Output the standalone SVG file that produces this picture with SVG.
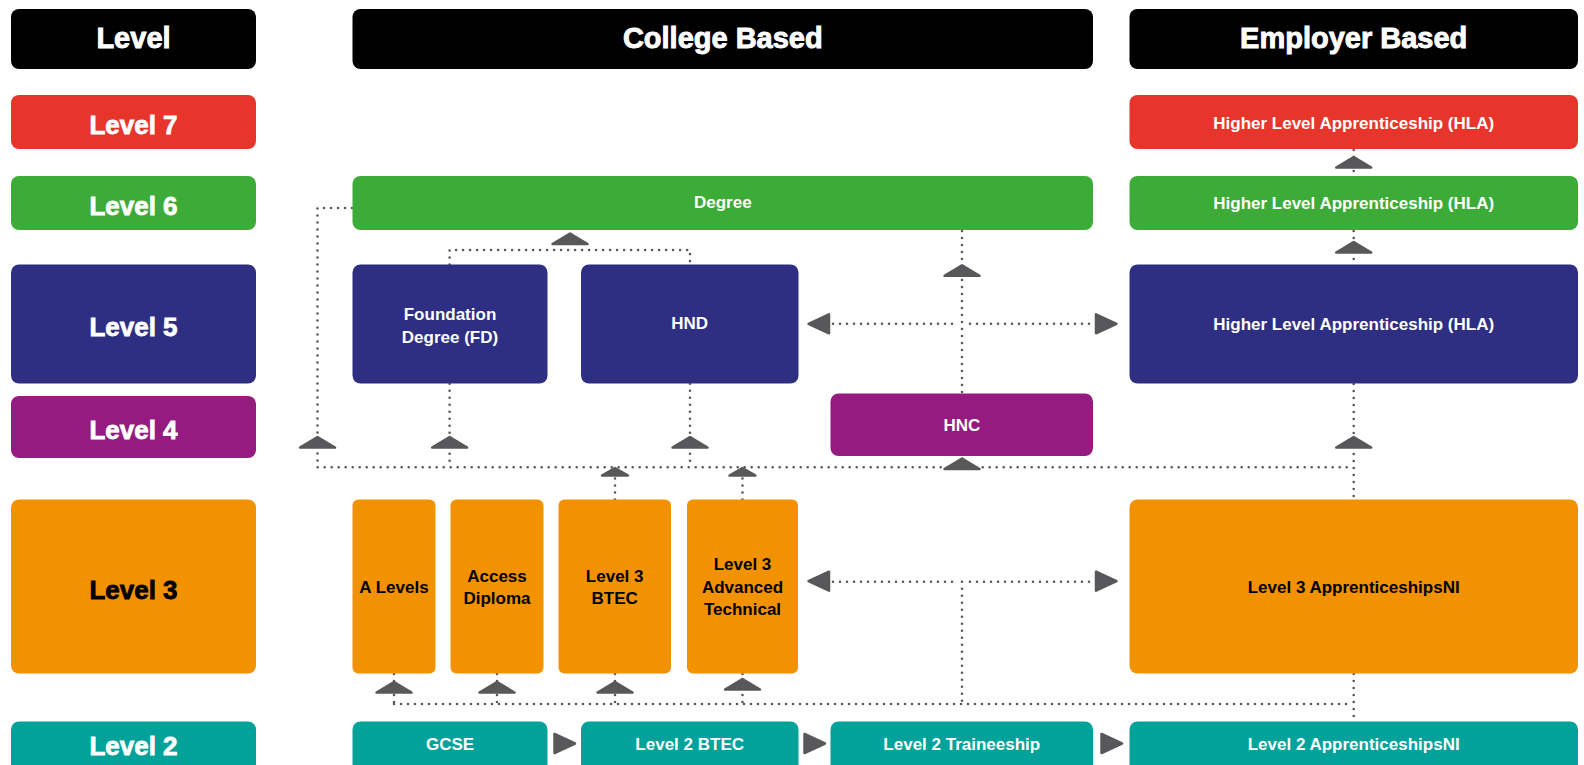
<svg xmlns="http://www.w3.org/2000/svg" width="1584" height="765" viewBox="0 0 1584 765">
<style>
.t{font-family:"Liberation Sans",Arial,sans-serif;font-weight:bold;text-anchor:middle;fill:#fff}
.hd{font-size:29px;stroke:#fff;stroke-width:0.9}
.lv{font-size:26px;stroke:#fff;stroke-width:0.8}
.nd{font-size:17px}
.bk{fill:#000}
.lv.bk{stroke:#000}
.dot{fill:none;stroke:#58585a;stroke-width:2.6;stroke-linecap:round;stroke-dasharray:0 7}
.ah{fill:#58585a;stroke:#58585a;stroke-width:2.5;stroke-linejoin:round}
.c-blk{fill:#000}
.c-red{fill:#e8352c}
.c-grn{fill:#3dab37}
.c-nav{fill:#2e2e82}
.c-pur{fill:#951b80}
.c-org{fill:#f29200}
.c-tea{fill:#00a29a}
</style>
<defs>
<path id="up" d="M-17.5,0 L0,-10.5 L17.5,0 Z"/>
<path id="ups" d="M-13,0 L0,-7.5 L13,0 Z"/>
<path id="lt" d="M0,-9.5 L-20.5,0 L0,9.5 Z"/>
<path id="rt" d="M0,-9.5 L20.5,0 L0,9.5 Z"/>
</defs>

<!-- Headers -->
<g id="hdr-level"><rect class="c-blk" x="11" y="9" width="245" height="60" rx="8"/><text class="t hd" x="133.5" y="48">Level</text></g>
<g id="hdr-college"><rect class="c-blk" x="352.5" y="9" width="740.5" height="60" rx="8"/><text class="t hd" x="722.8" y="48">College Based</text></g>
<g id="hdr-employer"><rect class="c-blk" x="1129.5" y="9" width="448.5" height="60" rx="8"/><text class="t hd" x="1353.7" y="48">Employer Based</text></g>

<!-- Level column -->
<g id="lvl7"><rect class="c-red" x="11" y="95" width="245" height="54" rx="8"/><text class="t lv" x="133.5" y="134">Level 7</text></g>
<g id="lvl6"><rect class="c-grn" x="11" y="176" width="245" height="54" rx="8"/><text class="t lv" x="133.5" y="215">Level 6</text></g>
<g id="lvl5"><rect class="c-nav" x="11" y="264.5" width="245" height="119" rx="8"/><text class="t lv" x="133.5" y="336">Level 5</text></g>
<g id="lvl4"><rect class="c-pur" x="11" y="396" width="245" height="62" rx="8"/><text class="t lv" x="133.5" y="439">Level 4</text></g>
<g id="lvl3"><rect class="c-org" x="11" y="499.5" width="245" height="174" rx="8"/><text class="t lv bk" x="133.5" y="598.5">Level 3</text></g>
<g id="lvl2"><rect class="c-tea" x="11" y="721.5" width="245" height="60" rx="8"/><text class="t lv" x="133.5" y="755">Level 2</text></g>

<!-- Connectors -->
<g id="connectors">
<path class="dot" d="M352 208 H317.5 V467.3 H1347"/>
<path class="dot" d="M449.6 383.7 V467.3"/>
<path class="dot" d="M690 383.7 V467.3"/>
<path class="dot" d="M449.6 264.5 V250 H690 V264.5"/>
<path class="dot" d="M962 231 V393.5"/>
<path class="dot" d="M833 323.7 H954"/>
<path class="dot" d="M970 323.7 H1093"/>
<path class="dot" d="M1353.7 150 V176"/>
<path class="dot" d="M1353.7 231 V264.5"/>
<path class="dot" d="M1353.7 384 V499.5"/>
<path class="dot" d="M615 499.5 V476"/>
<path class="dot" d="M742.5 499.5 V476"/>
<path class="dot" d="M833 581.7 H954"/>
<path class="dot" d="M970 581.7 H1093"/>
<path class="dot" d="M962 581.7 V704"/>
<path class="dot" d="M394 704 H1347"/>
<path class="dot" d="M394 674 V704"/>
<path class="dot" d="M497 674 V704"/>
<path class="dot" d="M615 674 V704"/>
<path class="dot" d="M742.5 674 V704"/>
<path class="dot" d="M1353.7 674 V721.5"/>
<!-- arrowheads -->
<use class="ah" href="#up" x="317.5" y="447.5"/>
<use class="ah" href="#up" x="449.6" y="447.5"/>
<use class="ah" href="#up" x="690" y="447.5"/>
<use class="ah" href="#up" x="962" y="469"/>
<use class="ah" href="#up" x="1353.7" y="447.5"/>
<use class="ah" href="#up" x="570" y="244"/>
<use class="ah" href="#up" x="962" y="275.8"/>
<use class="ah" href="#up" x="1353.7" y="167.5"/>
<use class="ah" href="#up" x="1353.7" y="252.5"/>
<use class="ah" href="#ups" x="615" y="475.5"/>
<use class="ah" href="#ups" x="742.5" y="475.5"/>
<use class="ah" href="#up" x="394" y="692.5"/>
<use class="ah" href="#up" x="497" y="692.5"/>
<use class="ah" href="#up" x="615" y="692.5"/>
<use class="ah" href="#up" x="742.5" y="689.5"/>
<use class="ah" href="#lt" x="829" y="323.8"/>
<use class="ah" href="#rt" x="1096" y="323.8"/>
<use class="ah" href="#lt" x="829" y="581.2"/>
<use class="ah" href="#rt" x="1096" y="581.2"/>
<use class="ah" href="#rt" x="554.5" y="743.5"/>
<use class="ah" href="#rt" x="804.5" y="743.5"/>
<use class="ah" href="#rt" x="1101.5" y="743.5"/>
</g>

<!-- College based -->
<g id="degree"><rect class="c-grn" x="352.5" y="176" width="740.5" height="54" rx="8"/><text class="t nd" x="722.8" y="208">Degree</text></g>
<g id="fd"><rect class="c-nav" x="352.5" y="264.5" width="195" height="119" rx="8"/><text class="t nd" x="450" y="320">Foundation</text><text class="t nd" x="450" y="342.7">Degree (FD)</text></g>
<g id="hnd"><rect class="c-nav" x="581" y="264.5" width="217.5" height="119" rx="8"/><text class="t nd" x="689.7" y="329">HND</text></g>
<g id="hnc"><rect class="c-pur" x="830.5" y="393.5" width="262.5" height="62.5" rx="8"/><text class="t nd" x="961.8" y="430.5">HNC</text></g>
<g id="alevels"><rect class="c-org" x="352.5" y="499.5" width="83" height="174" rx="6"/><text class="t nd bk" x="394" y="592.7">A Levels</text></g>
<g id="access"><rect class="c-org" x="450.5" y="499.5" width="93" height="174" rx="6"/><text class="t nd bk" x="497" y="581.7">Access</text><text class="t nd bk" x="497" y="604">Diploma</text></g>
<g id="l3btec"><rect class="c-org" x="558.5" y="499.5" width="112.5" height="174" rx="6"/><text class="t nd bk" x="614.7" y="581.7">Level 3</text><text class="t nd bk" x="614.7" y="604">BTEC</text></g>
<g id="l3adv"><rect class="c-org" x="687" y="499.5" width="111" height="174" rx="6"/><text class="t nd bk" x="742.5" y="570">Level 3</text><text class="t nd bk" x="742.5" y="592.7">Advanced</text><text class="t nd bk" x="742.5" y="615">Technical</text></g>
<g id="gcse"><rect class="c-tea" x="352.5" y="721.5" width="195" height="60" rx="8"/><text class="t nd" x="450" y="750">GCSE</text></g>
<g id="l2btec"><rect class="c-tea" x="581" y="721.5" width="217.5" height="60" rx="8"/><text class="t nd" x="689.7" y="750">Level 2 BTEC</text></g>
<g id="l2trainee"><rect class="c-tea" x="830.5" y="721.5" width="262.5" height="60" rx="8"/><text class="t nd" x="961.8" y="750">Level 2 Traineeship</text></g>

<!-- Employer based -->
<g id="hla7"><rect class="c-red" x="1129.5" y="95" width="448.5" height="54" rx="8"/><text class="t nd" x="1353.7" y="128.5">Higher Level Apprenticeship (HLA)</text></g>
<g id="hla6"><rect class="c-grn" x="1129.5" y="176" width="448.5" height="54" rx="8"/><text class="t nd" x="1353.7" y="209">Higher Level Apprenticeship (HLA)</text></g>
<g id="hla5"><rect class="c-nav" x="1129.5" y="264.5" width="448.5" height="119" rx="8"/><text class="t nd" x="1353.7" y="330">Higher Level Apprenticeship (HLA)</text></g>
<g id="l3app"><rect class="c-org" x="1129.5" y="499.5" width="448.5" height="174" rx="8"/><text class="t nd bk" x="1353.7" y="592.7">Level 3 ApprenticeshipsNI</text></g>
<g id="l2app"><rect class="c-tea" x="1129.5" y="721.5" width="448.5" height="60" rx="8"/><text class="t nd" x="1353.7" y="750">Level 2 ApprenticeshipsNI</text></g>
</svg>
